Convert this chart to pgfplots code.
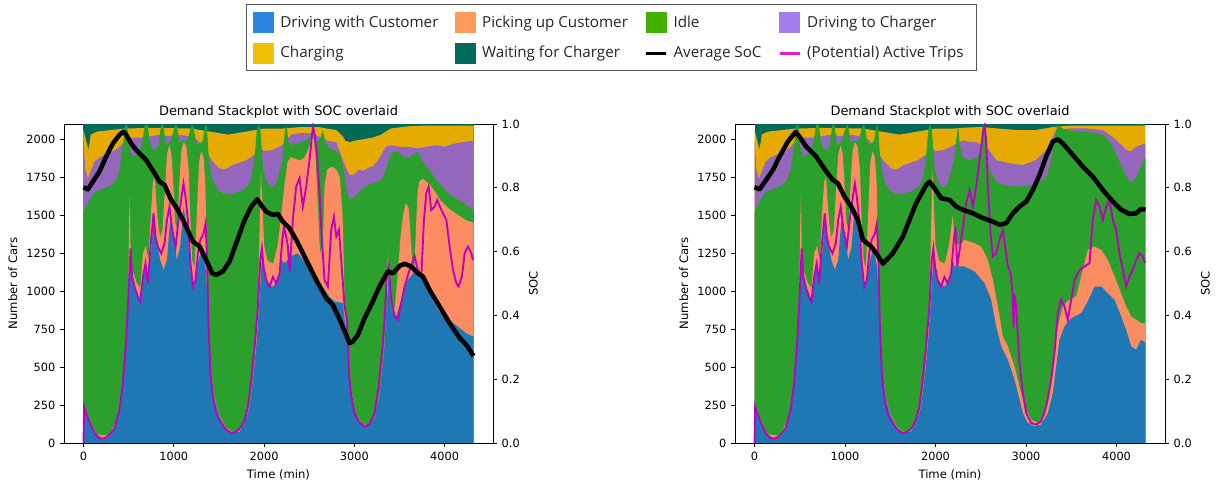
\documentclass[border=0pt]{standalone}
\usepackage{fontspec}
\setmainfont{DejaVu Sans}
\newfontfamily\legfont{Open Sans}
\usepackage{pgfplots}
\pgfplotsset{compat=1.18}

% plot colours
\definecolor{Cblue}{HTML}{1F77B4}
\definecolor{Corange}{HTML}{FC8D62}
\definecolor{Cgreen}{HTML}{2CA02C}
\definecolor{Cpurple}{HTML}{9467BD}
\definecolor{Cyellow}{HTML}{E6AB02}
\definecolor{Cteal}{HTML}{006A58}
\definecolor{Cmag}{HTML}{C000C0}
% legend colours
\definecolor{Lblue}{HTML}{2A86E0}
\definecolor{Lorange}{HTML}{FF9A5A}
\definecolor{Lgreen}{HTML}{44B000}
\definecolor{Lpurple}{HTML}{A57DF0}
\definecolor{Lyellow}{HTML}{EDC10A}
\definecolor{Lteal}{HTML}{006B58}
\definecolor{Lmag}{HTML}{E01EC8}

\pgfplotsset{
  panel/.style={
    scale only axis, height=239.25pt,
    xmin=-216, xmax=4536,
    tick align=outside, major tick length=3pt,
    every tick/.style={black, line width=0.6pt},
    axis line style={line width=0.6pt},
    tick label style={font=\fontsize{8.5}{10}\selectfont},
    label style={font=\fontsize{8.7}{10}\selectfont},
    title style={font=\fontsize{9.7}{11}\selectfont, yshift=-5pt},
    /pgf/number format/assume math mode=true,
    /pgf/number format/1000 sep={},
    scaled ticks=false,
  },
  cars/.style={panel,
    ymin=0, ymax=2100,
    xtick={0,1000,2000,3000,4000}, xtick pos=bottom,
    ytick={0,250,500,750,1000,1250,1500,1750,2000}, ytick pos=left,
    xlabel={Time (min)}, ylabel={Number of Cars},
    title={Demand Stackplot with SOC overlaid},
  },
  soc/.style={panel,
    ymin=0, ymax=1, axis x line=none, axis y line*=right,
    ytick={0,0.2,0.4,0.6,0.8,1},
    yticklabel style={/pgf/number format/.cd, fixed, fixed zerofill, precision=1},
    ylabel={SOC},
  },
  layer/.style={fill=#1, draw=none, forget plot},
  patch/.style={legend image code/.code={\fill[#1] (2pt,-7.5pt) rectangle (17pt,7.5pt);}},
  sline/.style={legend image code/.code={\draw[#1, line width=2.2pt] (2pt,0pt) -- (17pt,0pt);}},
}

\begin{document}
\begin{tikzpicture}
\path[use as bounding box] (0,0) rectangle (915pt,363pt);

%================ left panel ================
\begin{axis}[cars, at={(48pt,30.75pt)}, anchor=south west, width=321.75pt,
  legend columns=4,
  legend cell align=left,
  legend style={at={(1.2762,1.2696)}, anchor=center,
    draw=black!65, line width=0.75pt, fill=white,
    font=\legfont\fontsize{11.4}{13}\selectfont, text=black!85,
    inner xsep=5.5pt, inner ysep=5.5pt, row sep=7pt,
    nodes={inner xsep=4.5pt},
    /tikz/every even column/.append style={column sep=8pt}},
]
\addlegendimage{patch=Lblue}
\addlegendentry{Driving with Customer}
\addlegendimage{patch=Lorange}
\addlegendentry{Picking up Customer}
\addlegendimage{patch=Lgreen}
\addlegendentry{Idle}
\addlegendimage{patch=Lpurple}
\addlegendentry{Driving to Charger}
\addlegendimage{patch=Lyellow}
\addlegendentry{Charging}
\addlegendimage{patch=Lteal}
\addlegendentry{Waiting for Charger}
\addlegendimage{sline=black}
\addlegendentry{Average SoC}
\addlegendimage{sline=Lmag}
\addlegendentry{(Potential) Active Trips}

% waiting for charger (fills to total fleet)
\addplot[layer=Cteal] coordinates {(0,2100) (4320,2100)} \closedcycle;
% charging (top)
\addplot[layer=Cyellow] coordinates {(0,2060) (30,1990) (55,1930) (80,2030) (150,2050) (300,2060) (450,2070) (800,2075) (1200,2070) (1400,2050) (1500,2040) (1600,2030) (1700,2040) (1800,2050) (2000,2070) (2200,2070) (2400,2080) (2600,2080) (2800,2060) (2870,2020) (2900,1990) (2950,1980) (3000,1990) (3100,2000) (3200,2010) (3300,2030) (3400,2070) (3600,2085) (3800,2090) (4000,2090) (4320,2090)} \closedcycle;
% driving to charger (top)
\addplot[layer=Cpurple] coordinates {(0,2000) (20,1800) (50,1740) (80,1790) (120,1850) (180,1880) (250,1900) (330,1920) (400,1950) (470,2000) (550,2010) (650,2010) (750,2020) (850,2030) (950,2020) (1050,2030) (1150,2020) (1250,2000) (1330,1950) (1400,1880) (1450,1840) (1500,1810) (1550,1800) (1600,1810) (1650,1830) (1700,1840) (1800,1860) (1900,1900) (1950,1950) (2000,1920) (2100,1930) (2200,1960) (2300,2030) (2400,2040) (2500,2040) (2600,2020) (2700,1990) (2800,1980) (2850,1900) (2900,1820) (2950,1760) (3000,1770) (3050,1800) (3100,1790) (3150,1810) (3200,1820) (3250,1850) (3300,1900) (3350,1950) (3400,1960) (3500,1950) (3600,1950) (3700,1940) (3800,1950) (3900,1960) (4000,1950) (4100,1970) (4200,1980) (4320,1990)} \closedcycle;
% idle (top)
\addplot[layer=Cgreen] coordinates {(0,1520) (30,1560) (66,1600) (120,1650) (200,1670) (280,1690) (350,1720) (400,1800) (440,1980) (465,2095) (485,2095) (505,1950) (540,1880) (580,1900) (620,1920) (650,1980) (680,2095) (710,2095) (735,1980) (760,1940) (800,1930) (830,1960) (860,2095) (885,2095) (910,1960) (960,1980) (995,2050) (1015,2095) (1035,2090) (1060,1980) (1100,1990) (1150,1990) (1180,2060) (1200,2095) (1220,2080) (1245,1980) (1280,1960) (1320,1990) (1345,2080) (1365,2095) (1385,1900) (1410,1780) (1450,1700) (1500,1660) (1550,1640) (1600,1640) (1650,1640) (1700,1650) (1750,1660) (1800,1680) (1850,1720) (1890,1850) (1920,2060) (1940,2095) (1960,2060) (1990,1800) (2030,1720) (2080,1680) (2120,1690) (2160,1760) (2200,1850) (2230,2050) (2250,2090) (2270,1980) (2300,1960) (2350,1970) (2400,1980) (2450,1990) (2500,2000) (2540,2060) (2580,1980) (2620,2000) (2650,2060) (2680,1980) (2720,1940) (2770,1930) (2800,1920) (2840,1900) (2880,1800) (2910,1680) (2950,1600) (3000,1620) (3050,1650) (3100,1680) (3150,1700) (3200,1710) (3250,1720) (3300,1730) (3350,1800) (3400,1900) (3450,1920) (3500,1910) (3550,1880) (3600,1880) (3650,1900) (3700,1920) (3750,1860) (3800,1820) (3850,1780) (3900,1740) (3950,1700) (4000,1670) (4050,1640) (4100,1620) (4150,1600) (4200,1580) (4260,1560) (4320,1530)} \closedcycle;
% picking up customer (top)
\addplot[layer=Corange] coordinates {(0,0) (3,235) (30,200) (140,58) (288,47) (399,200) (436,380) (473,650) (495,1000) (505,1450) (513,1640) (522,1250) (547,1130) (591,1050) (628,1020) (660,1250) (690,1300) (720,1200) (745,1500) (770,1720) (790,1750) (805,1600) (825,1450) (850,1350) (875,1400) (900,1650) (925,1900) (950,1960) (975,1900) (995,1700) (1015,1450) (1040,1400) (1060,1700) (1085,1930) (1110,1980) (1140,1950) (1165,1800) (1185,1450) (1205,1200) (1230,1150) (1255,1500) (1280,1850) (1305,1920) (1330,1880) (1350,1700) (1365,1300) (1380,950) (1395,700) (1415,465) (1452,290) (1507,180) (1581,100) (1655,72) (1729,80) (1784,135) (1840,250) (1877,430) (1913,670) (1935,1000) (1950,1400) (1965,1800) (1980,1600) (2000,1300) (2040,1200) (2100,1180) (2150,1300) (2190,1500) (2227,1700) (2260,1850) (2300,1880) (2350,1870) (2400,1860) (2450,1880) (2500,1950) (2540,2060) (2570,1900) (2600,1500) (2620,1250) (2650,1300) (2670,1700) (2700,1800) (2750,1820) (2800,1800) (2840,1750) (2870,1500) (2890,1000) (2910,730) (2947,420) (3002,222) (3076,124) (3150,118) (3224,168) (3280,335) (3328,600) (3357,905) (3372,1250) (3385,1100) (3409,905) (3430,860) (3450,900) (3480,1100) (3510,1350) (3540,1500) (3570,1580) (3600,1550) (3620,1400) (3640,1200) (3665,1140) (3685,1450) (3700,1650) (3720,1720) (3760,1740) (3800,1720) (3850,1690) (3900,1650) (3950,1600) (4000,1570) (4050,1540) (4100,1520) (4150,1500) (4200,1480) (4260,1460) (4320,1450)} \closedcycle;
% driving with customer
\addplot[layer=Cblue] coordinates {(0,0) (3,230) (30,195) (85,129) (140,53) (214,31) (288,42) (343,86) (399,195) (436,371) (473,634) (499,941) (521,1248) (547,1094) (591,985) (628,941) (676,1160) (713,1094) (750,1248) (776,1467) (813,1314) (850,1204) (887,1138) (924,1204) (960,1467) (997,1379) (1034,1204) (1071,1292) (1108,1555) (1145,1423) (1193,1094) (1230,1028) (1267,1182) (1315,1292) (1352,1160) (1370,985) (1389,721) (1415,458) (1452,283) (1507,173) (1581,96) (1655,68) (1729,75) (1784,129) (1840,239) (1877,414) (1913,634) (1950,941) (1980,1270) (2006,1116) (2043,1050) (2098,1028) (2154,1072) (2190,1204) (2227,1184) (2300,1230) (2375,1249) (2450,1190) (2523,1140) (2600,1060) (2670,1008) (2730,960) (2781,932) (2840,925) (2873,921) (2910,723) (2947,416) (3002,219) (3076,121) (3150,114) (3224,164) (3280,329) (3328,592) (3357,899) (3380,1096) (3409,899) (3464,833) (3520,943) (3594,1074) (3668,1129) (3742,1096) (3815,1008) (3870,940) (3926,877) (3980,840) (4037,811) (4090,790) (4147,767) (4200,740) (4240,723) (4280,710) (4320,701)} \closedcycle;
% (potential) active trips
\addplot[Cmag, line width=1.4pt, forget plot] coordinates {(0,0) (7,240) (30,195) (66,140) (122,64) (177,31) (233,31) (288,53) (343,96) (399,217) (436,393) (473,678) (502,1028) (521,1281) (539,1094) (565,1028) (602,963) (628,930) (658,1094) (687,1182) (713,1050) (742,1292) (776,1511) (798,1357) (824,1292) (861,1248) (898,1314) (924,1467) (953,1555) (983,1401) (1020,1292) (1056,1489) (1086,1621) (1108,1708) (1130,1621) (1156,1467) (1182,1204) (1212,1028) (1241,1072) (1267,1248) (1293,1336) (1330,1379) (1352,1445) (1367,1248) (1385,765) (1407,458) (1433,305) (1470,195) (1526,129) (1581,86) (1637,64) (1692,75) (1747,107) (1784,151) (1821,239) (1858,414) (1895,634) (1932,897) (1958,1204) (1976,1281) (1995,1160) (2024,1072) (2061,1028) (2098,1094) (2135,1050) (2172,1116) (2202,1336) (2220,1423) (2246,1357) (2264,1293) (2283,1129) (2319,1469) (2356,1688) (2393,1743) (2430,1556) (2467,1688) (2504,1863) (2541,2082) (2559,2039) (2585,1907) (2615,1644) (2641,1337) (2670,1074) (2707,1030) (2744,1403) (2774,1491) (2800,1359) (2829,1403) (2863,1140) (2892,899) (2918,811) (2940,460) (2966,307) (3002,197) (3058,132) (3113,110) (3169,121) (3224,197) (3269,373) (3306,592) (3335,811) (3361,1118) (3380,1162) (3409,943) (3446,833) (3483,811) (3512,899) (3557,1030) (3612,1140) (3668,1228) (3704,1140) (3742,1096) (3771,1469) (3797,1644) (3823,1688) (3852,1534) (3889,1556) (3919,1600) (3948,1556) (3982,1512) (4019,1469) (4056,1293) (4093,1140) (4130,1052) (4155,1030) (4192,1096) (4222,1249) (4259,1293) (4296,1249) (4314,1206)};
\end{axis}

\begin{axis}[soc, at={(48pt,30.75pt)}, anchor=south west, width=321.75pt]
\addplot[black, line width=3.4pt, line join=round] coordinates {(0,0.802) (48,0.795) (103,0.819) (177,0.851) (251,0.898) (325,0.939) (399,0.966) (443,0.976) (473,0.966) (528,0.939) (583,0.919) (694,0.887) (787,0.846) (842,0.819) (897,0.809) (971,0.762) (1045,0.731) (1119,0.689) (1211,0.632) (1285,0.616) (1359,0.574) (1426,0.532) (1470,0.527) (1544,0.538) (1618,0.569) (1691,0.626) (1784,0.699) (1858,0.741) (1924,0.764) (1968,0.746) (2024,0.725) (2098,0.715) (2153,0.718) (2208,0.694) (2282,0.673) (2356,0.637) (2467,0.574) (2578,0.511) (2688,0.454) (2762,0.433) (2855,0.376) (2947,0.313) (2984,0.318) (3039,0.339) (3113,0.391) (3187,0.433) (3279,0.491) (3372,0.538) (3427,0.532) (3501,0.555) (3556,0.562) (3630,0.553) (3704,0.532) (3759,0.522) (3833,0.480) (3944,0.428) (4055,0.376) (4166,0.329) (4240,0.308) (4320,0.273)};
\end{axis}

%================ right panel ================
\begin{axis}[cars, at={(551.25pt,30.75pt)}, anchor=south west, width=322.5pt]
\addplot[layer=Cteal] coordinates {(0,2100) (4320,2100)} \closedcycle;
\addplot[layer=Cyellow] coordinates {(0,2060) (30,1990) (55,1930) (80,2030) (150,2050) (300,2060) (450,2070) (800,2075) (1200,2070) (1400,2050) (1500,2040) (1600,2030) (1700,2040) (1800,2050) (2000,2070) (2200,2070) (2300,2075) (2500,2080) (2700,2070) (2900,2060) (3100,2060) (3300,2080) (3500,2090) (3800,2090) (4000,2090) (4320,2090)} \closedcycle;
\addplot[layer=Cpurple] coordinates {(0,2000) (20,1800) (50,1740) (80,1790) (120,1850) (180,1880) (250,1900) (330,1920) (400,1950) (470,2000) (550,2010) (650,2010) (750,2020) (850,2030) (950,2020) (1050,2030) (1150,2020) (1250,2000) (1330,1950) (1400,1880) (1450,1840) (1500,1810) (1550,1800) (1600,1810) (1650,1830) (1700,1840) (1800,1860) (1900,1900) (1950,1950) (2000,1920) (2100,1930) (2200,1960) (2300,1990) (2376,1984) (2450,1980) (2560,1951) (2670,1863) (2818,1841) (2965,1830) (3112,1863) (3223,1929) (3333,2060) (3480,2071) (3664,2071) (3849,2060) (3996,1995) (4106,1929) (4160,1920) (4217,1951) (4320,1973)} \closedcycle;
\addplot[layer=Cgreen] coordinates {(0,1520) (30,1560) (66,1600) (120,1650) (200,1670) (280,1690) (350,1720) (400,1800) (440,1980) (465,2095) (485,2095) (505,1950) (540,1880) (580,1900) (620,1920) (650,1980) (680,2095) (710,2095) (735,1980) (760,1940) (800,1930) (830,1960) (860,2095) (885,2095) (910,1960) (960,1980) (995,2050) (1015,2095) (1035,2090) (1060,1980) (1100,1990) (1150,1990) (1180,2060) (1200,2095) (1220,2080) (1245,1980) (1280,1960) (1320,1990) (1345,2080) (1365,2095) (1385,1900) (1410,1780) (1450,1700) (1500,1660) (1550,1640) (1600,1640) (1650,1640) (1700,1650) (1750,1660) (1800,1680) (1850,1720) (1890,1850) (1920,2060) (1940,2095) (1960,2060) (1990,1800) (2030,1720) (2080,1680) (2120,1690) (2160,1760) (2200,1850) (2230,2000) (2250,2090) (2270,1950) (2300,1880) (2376,1863) (2449,1880) (2500,1920) (2523,2095) (2545,2095) (2565,1900) (2597,1800) (2670,1720) (2744,1700) (2850,1690) (2928,1690) (3020,1695) (3112,1700) (3223,1750) (3260,1820) (3296,1920) (3330,2050) (3351,2090) (3407,2070) (3480,2060) (3554,2055) (3628,2050) (3701,2045) (3775,2040) (3849,2030) (3900,2000) (3959,1950) (4010,1880) (4070,1800) (4106,1760) (4143,1720) (4180,1720) (4217,1750) (4260,1800) (4290,1850) (4320,1880)} \closedcycle;
\addplot[layer=Corange] coordinates {(0,0) (3,235) (30,200) (140,58) (288,47) (399,200) (436,380) (473,650) (495,1000) (505,1450) (513,1640) (522,1250) (547,1130) (591,1050) (628,1020) (660,1250) (690,1300) (720,1200) (745,1500) (770,1720) (790,1750) (805,1600) (825,1450) (850,1350) (875,1400) (900,1650) (925,1900) (950,1960) (975,1900) (995,1700) (1015,1450) (1040,1400) (1060,1700) (1085,1930) (1110,1980) (1140,1950) (1165,1800) (1185,1450) (1205,1200) (1230,1150) (1255,1500) (1280,1850) (1305,1920) (1330,1880) (1350,1700) (1365,1300) (1380,950) (1395,700) (1415,465) (1452,290) (1507,180) (1581,100) (1655,72) (1729,80) (1784,135) (1840,250) (1877,430) (1913,670) (1935,1000) (1950,1400) (1965,1800) (1980,1600) (2000,1300) (2040,1200) (2100,1180) (2150,1300) (2190,1500) (2210,1350) (2250,1300) (2320,1337) (2431,1315) (2504,1293) (2578,1206) (2634,1074) (2689,899) (2744,701) (2799,636) (2873,504) (2928,373) (2984,241) (3057,153) (3130,132) (3204,175) (3260,307) (3314,548) (3351,767) (3407,899) (3480,943) (3554,965) (3628,1140) (3683,1271) (3757,1293) (3830,1271) (3904,1206) (3978,1096) (4051,986) (4106,899) (4162,833) (4217,811) (4272,789) (4320,789)} \closedcycle;
\addplot[layer=Cblue] coordinates {(0,0) (3,230) (30,195) (85,129) (140,53) (214,31) (288,42) (343,86) (399,195) (436,371) (473,634) (499,941) (521,1248) (547,1094) (591,985) (628,941) (676,1160) (713,1094) (750,1248) (776,1467) (813,1314) (850,1204) (887,1138) (924,1204) (960,1467) (997,1379) (1034,1204) (1071,1292) (1108,1555) (1145,1423) (1193,1094) (1230,1028) (1267,1182) (1315,1292) (1352,1160) (1370,985) (1389,721) (1415,458) (1452,283) (1507,173) (1581,96) (1655,68) (1729,75) (1784,129) (1840,239) (1877,414) (1913,634) (1950,941) (1980,1270) (2006,1116) (2043,1050) (2098,1028) (2154,1072) (2190,1204) (2210,1162) (2320,1162) (2431,1129) (2541,1052) (2615,943) (2670,767) (2726,636) (2799,548) (2873,416) (2928,285) (2965,197) (3020,132) (3094,110) (3167,121) (3241,197) (3296,329) (3333,504) (3370,680) (3425,767) (3480,811) (3536,833) (3609,855) (3683,932) (3757,1030) (3830,1030) (3904,986) (3978,943) (4051,833) (4106,745) (4162,636) (4217,614) (4272,680) (4320,658)} \closedcycle;
\addplot[Cmag, line width=1.4pt, forget plot] coordinates {(0,0) (7,240) (30,195) (66,140) (122,64) (177,31) (233,31) (288,53) (343,96) (399,217) (436,393) (473,678) (502,1028) (521,1281) (539,1094) (565,1028) (602,963) (628,930) (658,1094) (687,1182) (713,1050) (742,1292) (776,1511) (798,1357) (824,1292) (861,1248) (898,1314) (924,1467) (953,1555) (983,1401) (1020,1292) (1056,1489) (1086,1621) (1108,1708) (1130,1621) (1156,1467) (1182,1204) (1212,1028) (1241,1072) (1267,1248) (1293,1336) (1330,1379) (1352,1445) (1367,1248) (1385,765) (1407,458) (1433,305) (1470,195) (1526,129) (1581,86) (1637,64) (1692,75) (1747,107) (1784,151) (1821,239) (1858,414) (1895,634) (1932,897) (1958,1204) (1976,1281) (1995,1160) (2024,1072) (2061,1028) (2098,1094) (2135,1050) (2172,1116) (2202,1336) (2220,1423) (2239,1162) (2283,1337) (2339,1578) (2376,1666) (2413,1556) (2450,1688) (2486,1863) (2523,2039) (2541,2093) (2560,1995) (2578,1688) (2608,1381) (2634,1228) (2670,1249) (2707,1337) (2744,1403) (2770,1293) (2799,1162) (2829,1118) (2850,1000) (2862,760) (2870,980) (2890,900) (2928,526) (2965,329) (3002,197) (3057,132) (3112,121) (3167,142) (3223,241) (3278,416) (3314,592) (3351,855) (3388,943) (3425,899) (3462,811) (3499,943) (3536,1074) (3591,1140) (3646,1162) (3702,1184) (3738,1469) (3775,1600) (3812,1556) (3849,1469) (3886,1556) (3923,1600) (3959,1469) (3996,1403) (4033,1249) (4070,1140) (4106,1030) (4143,1096) (4180,1140) (4217,1206) (4254,1249) (4291,1228) (4316,1184)};
\end{axis}

\begin{axis}[soc, at={(551.25pt,30.75pt)}, anchor=south west, width=322.5pt]
\addplot[black, line width=3.4pt, line join=round] coordinates {(0,0.802) (55,0.795) (129,0.825) (203,0.856) (276,0.898) (368,0.945) (453,0.975) (497,0.960) (571,0.929) (681,0.898) (792,0.851) (865,0.825) (921,0.814) (994,0.772) (1068,0.741) (1142,0.699) (1197,0.637) (1289,0.616) (1344,0.595) (1418,0.562) (1528,0.595) (1639,0.647) (1786,0.752) (1897,0.809) (1934,0.819) (1989,0.799) (2063,0.767) (2155,0.762) (2228,0.741) (2302,0.731) (2412,0.720) (2523,0.705) (2633,0.694) (2707,0.684) (2781,0.689) (2854,0.720) (2928,0.741) (3002,0.757) (3075,0.793) (3149,0.840) (3223,0.898) (3296,0.945) (3351,0.952) (3407,0.939) (3517,0.903) (3628,0.866) (3738,0.835) (3849,0.793) (3959,0.757) (4051,0.731) (4143,0.718) (4217,0.720) (4272,0.734) (4320,0.731)};
\end{axis}
\end{tikzpicture}
\end{document}
